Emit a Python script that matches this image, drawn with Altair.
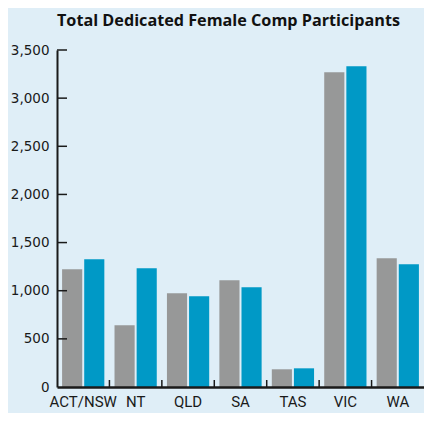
import altair as alt
import pandas as pd

states = ["ACT/NSW", "NT", "QLD", "SA", "TAS", "VIC", "WA"]
series = ["Series 1", "Series 2"]
gray_vals = [1222, 641, 973, 1108, 184, 3268, 1337]
blue_vals = [1326, 1233, 942, 1035, 194, 3331, 1274]
y_tick_values = [0, 500, 1000, 1500, 2000, 2500, 3000, 3500]
inner_ticks = [500, 1000, 1500, 2000, 2500, 3000, 3500]

rows = []
for s, g, b in zip(states, gray_vals, blue_vals):
    rows.append({"state": s, "series": series[0], "value": g})
    rows.append({"state": s, "series": series[1], "value": b})
df = pd.DataFrame(rows)

W, H = 367, 337
GRAY = "#979898"
BLUE = "#0099C6"
DARK = "#1a1a1a"

x_scale = alt.Scale(domain=states, paddingInner=0, paddingOuter=0)
y_scale = alt.Scale(domain=[0, 3500], nice=False)

x_axis = alt.Axis(title=None, labelAngle=0, ticks=False, domainColor=DARK,
                  domainWidth=2.5, labelFont="Roboto", labelFontSize=15,
                  labelColor=DARK, labelPadding=7, zindex=1)
y_axis = alt.Axis(title=None, values=y_tick_values, format=",.0f", ticks=False, grid=False,
                  domainColor=DARK, domainWidth=2, labelFont="DejaVu Sans",
                  labelFontSize=13.5, labelColor=DARK, labelPadding=8, zindex=1)

bars = alt.Chart(df).mark_bar().encode(
    x=alt.X("state:N", scale=x_scale, sort=states, axis=x_axis),
    xOffset=alt.XOffset("series:N", scale=alt.Scale(domain=series, paddingInner=0.09, paddingOuter=0.23)),
    y=alt.Y("value:Q", scale=y_scale, axis=y_axis),
    color=alt.Color("series:N", scale=alt.Scale(domain=series, range=[GRAY, BLUE]), legend=None),
)

yticks = alt.Chart(pd.DataFrame({"value": inner_ticks})).mark_rule(color=DARK, strokeWidth=1.5).encode(
    y=alt.Y("value:Q", scale=y_scale, axis=y_axis),
    x=alt.value(0),
    x2=alt.value(10),
)

xticks = alt.Chart(pd.DataFrame({"state": states[1:]})).mark_rule(color=DARK, strokeWidth=1.5).encode(
    x=alt.X("state:N", scale=x_scale, sort=states, bandPosition=0, axis=x_axis),
    y=alt.value(H - 7),
    y2=alt.value(H),
)

chart = alt.layer(bars, yticks, xticks).properties(
    width=W, height=H,
    title=alt.Title("Total Dedicated Female Comp Participants", anchor="start", frame="group",
                    font="Open Sans", fontSize=16.2, fontWeight="bold", color="#111111", offset=14),
    autosize=alt.AutoSizeParams(type="none"),
    padding={"left": 49, "top": 42, "right": 0, "bottom": 26},
).configure(background="#DFEEF7").configure_view(stroke=None)

chart.save("out.html", embed_options={"renderer": "svg", "actions": False})
